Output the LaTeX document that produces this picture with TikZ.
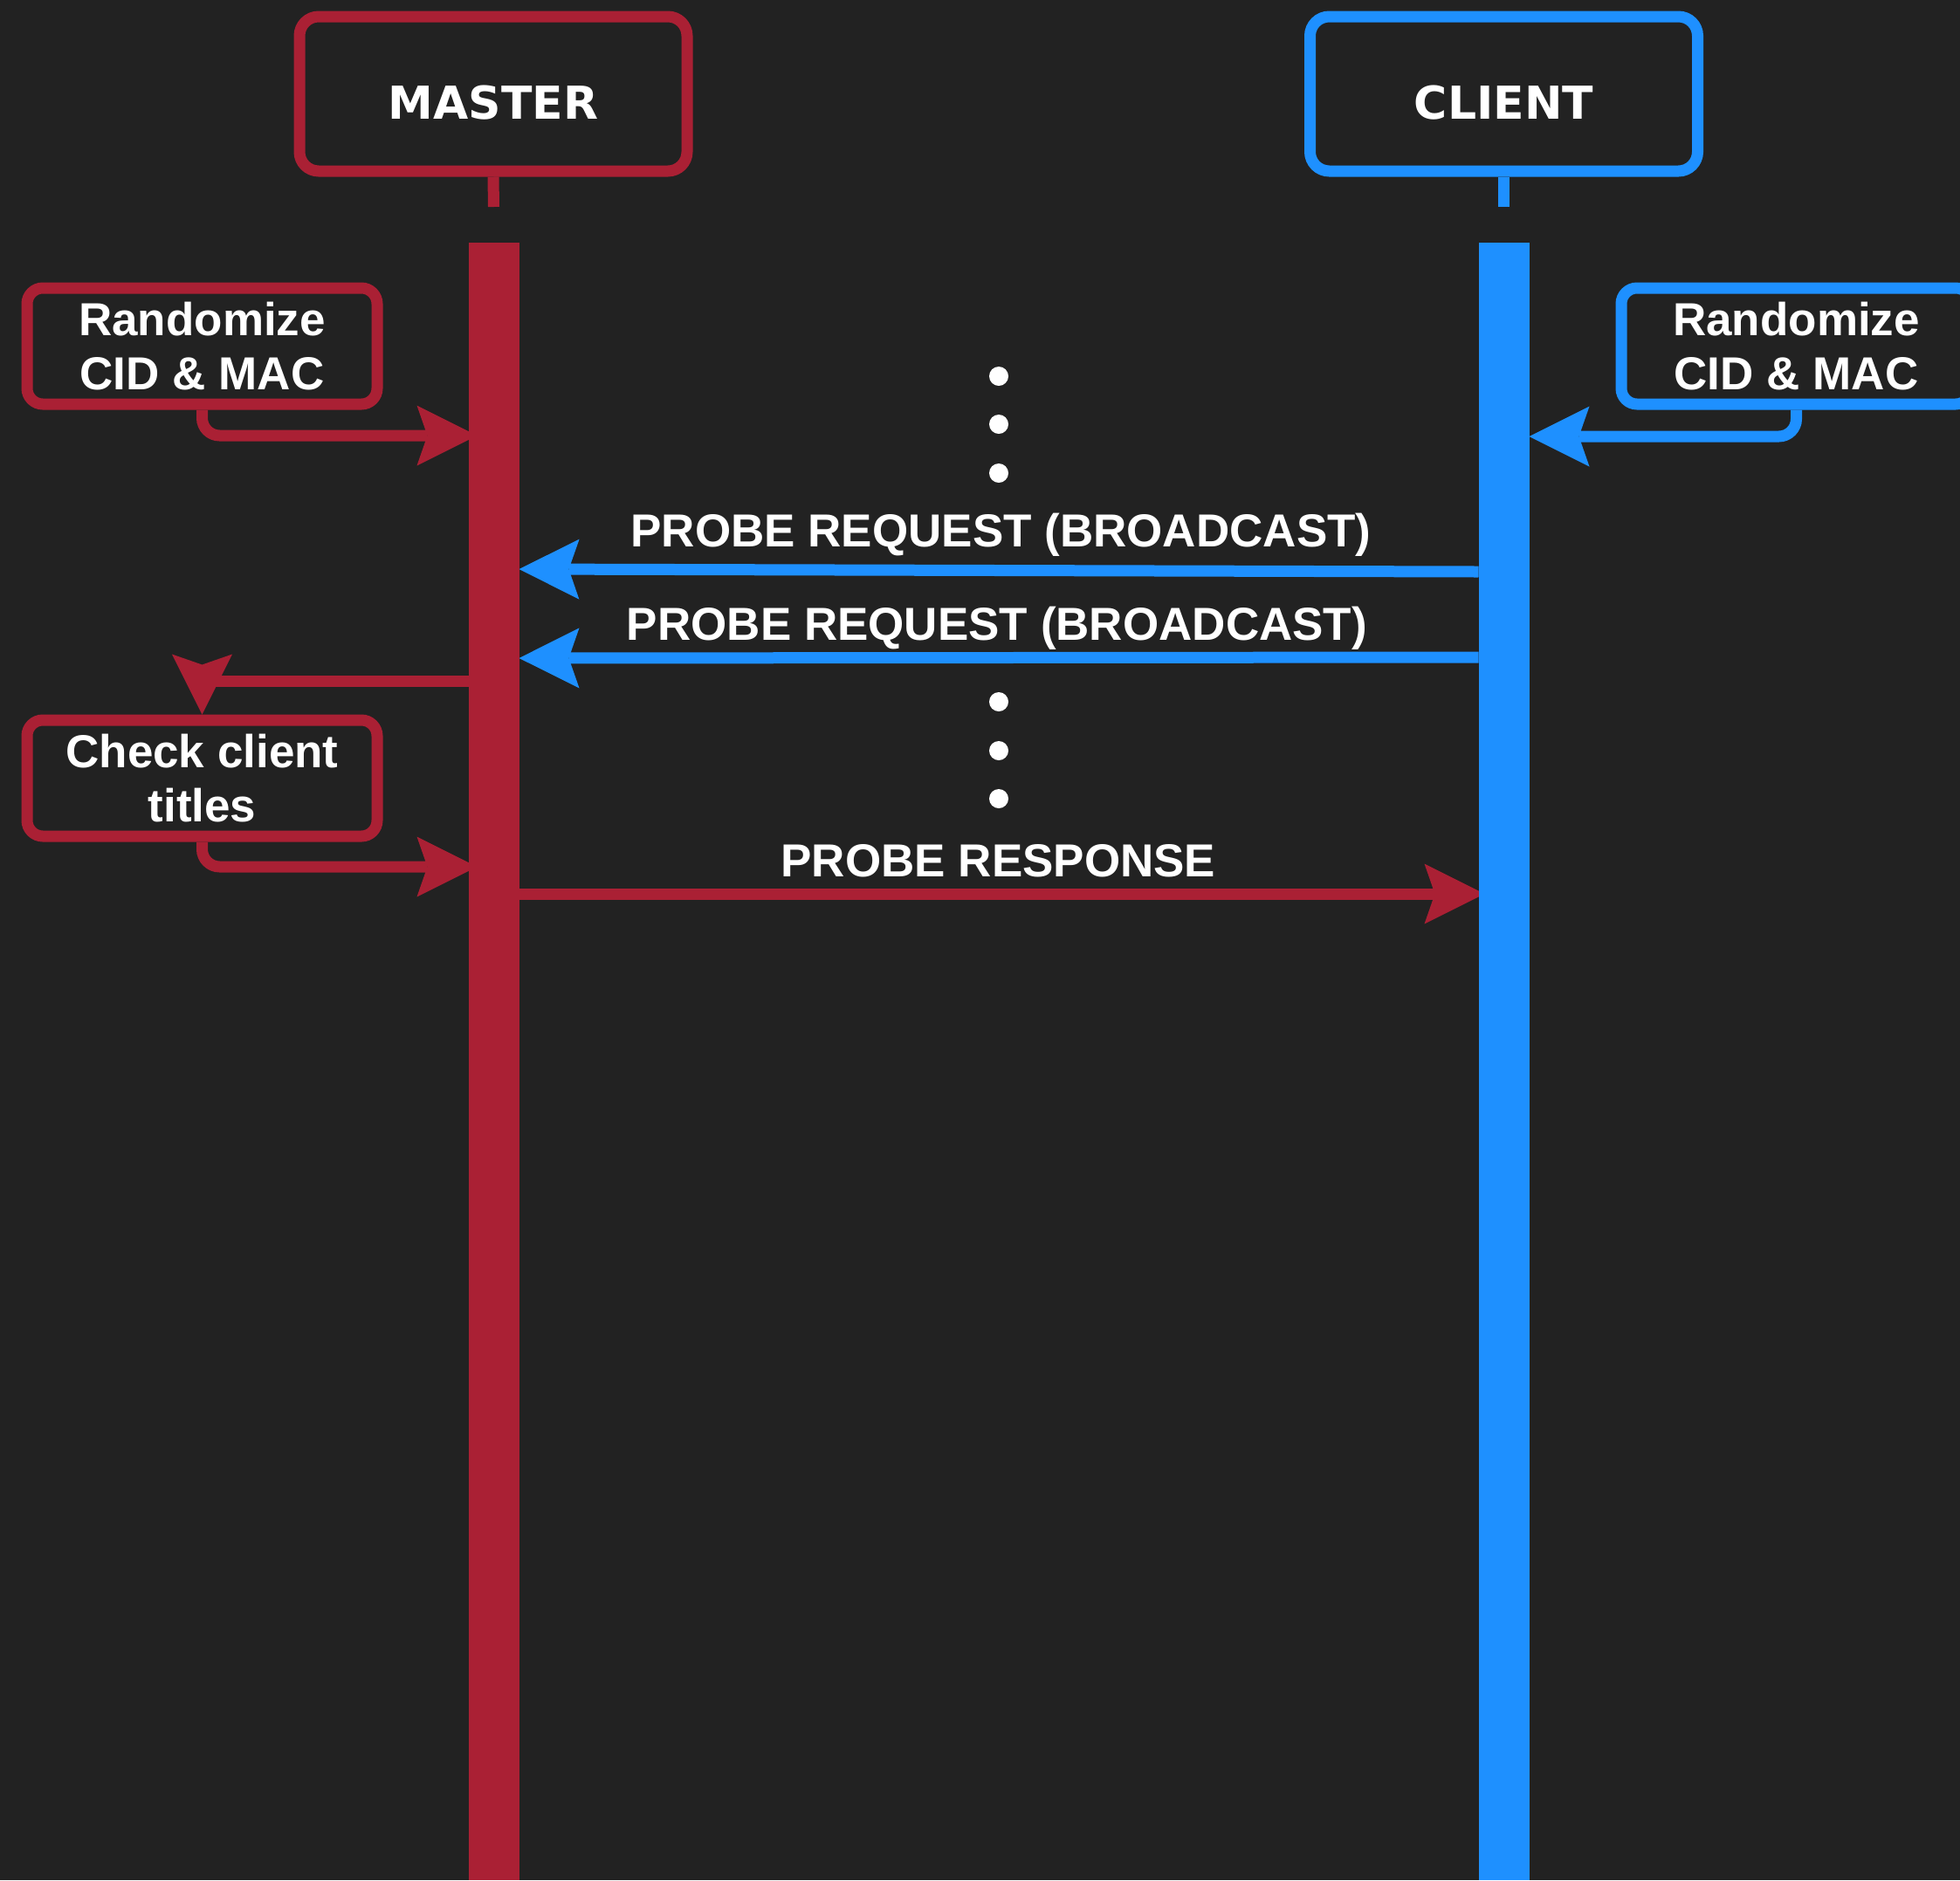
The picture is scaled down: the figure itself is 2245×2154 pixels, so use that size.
\documentclass[tikz,border=0pt]{standalone}
\usepackage{fontspec}
\setmainfont{Liberation Sans}
\newfontfamily\headfont{DejaVu Sans}
\usetikzlibrary{arrows.meta,calc}

\definecolor{bgdark}{RGB}{34,34,34}
\definecolor{mred}{RGB}{170,32,52}
\definecolor{cblue}{RGB}{30,144,255}

\pgfdeclarelayer{fg}
\pgfsetlayers{main,fg}

\tikzset{
  every node/.style={inner sep=0pt},
  actor/.style={draw=#1, line width=6.5pt, rounded corners=11pt,
    minimum width=222pt, minimum height=88.5pt, text=white,
    font=\headfont\bfseries\fontsize{26}{31}\selectfont,
    text height=29pt, text depth=0pt},
  note/.style={draw=#1, line width=6.5pt, rounded corners=9pt,
    minimum width=200.5pt, minimum height=66.5pt, text=white, align=center,
    font=\bfseries\fontsize{26.5}{31}\selectfont},
  lifeline/.style={fill=#1, minimum width=29pt, minimum height=938pt, outer sep=0pt},
  stem/.style={draw=#1, line width=6.5pt},
  msg/.style={draw=#1, line width=6.5pt,
    -{Stealth[length=34.5pt, width=34.5pt, inset=6pt, line width=0pt]}},
  msglabel/.style={text=white, anchor=base, font=\bfseries\fontsize{26.5}{31}\selectfont},
  dot/.style={circle, fill=white, minimum size=11pt},
}

\begin{document}
\begin{tikzpicture}[x=0.5pt,y=-0.5pt]
\path[use as bounding box] (0,0) rectangle (2245,2154);
\clip (0,0) rectangle (2245,2154);
\fill[bgdark] (0,0) rectangle (2245,2154);

% lifelines sit above the message arrows
\begin{pgfonlayer}{fg}
  \node[lifeline=mred, anchor=north] (mlife) at (565.5,278) {};
  \node[lifeline=cblue, anchor=north] (clife) at (1722.5,278) {};
\end{pgfonlayer}

% participants
\node[actor=mred] (master) at (565,107.5) {MASTER};
\node[actor=cblue] (client) at (1722.5,107.5) {CLIENT};
\coordinate (mstem) at (565.5,237);
\coordinate (cstem) at (1722.5,237);
\draw[stem=mred] (master.south) -- (mstem);
\draw[stem=cblue] (client.south) -- (cstem);

% local actions
\node[note=mred] (mrand) at (231.5,396.5) {Randomize\\CID \& MAC};
\node[note=cblue] (crand) at (2057.5,396.5) {Randomize\\CID \& MAC};
\node[note=mred] (mchk) at (231.5,891.5) {Check client\\titles};

\draw[msg=mred, rounded corners=10pt] (mrand.south) |- ($(mlife.west |- 0,499)+(10,0)$);
\draw[msg=cblue, rounded corners=10pt] (crand.south) |- (clife.east |- 0,500);

% ellipsis dots
\node[dot] (d1) at (1144,431) {};
\node[dot] (d2) at (1144,486) {};
\node[dot] (d3) at (1144,542) {};
\node[dot] (d4) at (1144,804) {};
\node[dot] (d5) at (1144,860) {};
\node[dot] (d6) at (1144,915) {};

% messages
\draw[msg=cblue] (clife.west |- 0,655) -- (mlife.east |- 0,652)
  node[msglabel, midway, xshift=1.25pt, yshift=13.75pt] {PROBE REQUEST (BROADCAST)};
\draw[msg=cblue] (clife.west |- 0,753) -- (mlife.east |- 0,754)
  node[msglabel, midway, xshift=-1pt, yshift=10.25pt] {PROBE REQUEST (BROADCAST)};

\draw[msg=mred] (mlife.west |- 0,780) -| (mchk.north);
\draw[msg=mred, rounded corners=10pt] (mchk.south) |- ($(mlife.west |- 0,993)+(10,0)$);

\draw[msg=mred] (mlife.east |- 0,1024) -- ($(clife.west |- 0,1024)+(7,0)$)
  node[msglabel, midway, xshift=-2pt, yshift=10pt] {PROBE RESPONSE};
\end{tikzpicture}
\end{document}
